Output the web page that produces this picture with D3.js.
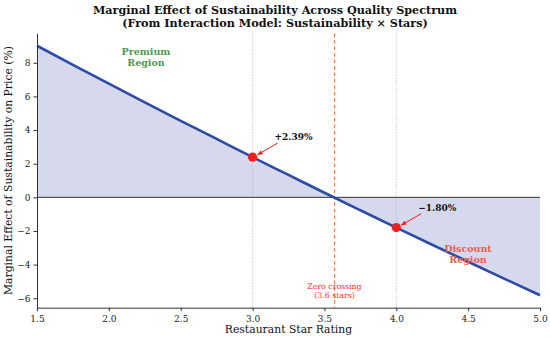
<!DOCTYPE html>
<html>
<head>
<meta charset="utf-8">
<script src="https://cdn.jsdelivr.net/npm/d3@7"></script>
<style>
  body { margin: 0; background: #fff; }
  svg text { font-family: "DejaVu Serif", serif; }
</style>
</head>
<body>
<svg id="chart" width="550" height="339"></svg>
<script>
// star ratings and marginal effect (%)
var stars = [1.5, 1.75, 2.0, 2.25, 2.5, 2.75, 3.0, 3.25, 3.5, 3.75, 4.0, 4.25, 4.5, 4.75, 5.0];
var effect = [9.01, 7.88, 6.76, 5.65, 4.55, 3.47, 2.39, 1.33, 0.27, -0.77, -1.80, -2.82, -3.83, -4.83, -5.82];
var markStars = [3.0, 4.0];
var markEffect = [2.39, -1.80];
var markLabels = ["+2.39%", "\u22121.80%"];
var zeroCross = 3.57;
var xTicks = [1.5, 2.0, 2.5, 3.0, 3.5, 4.0, 4.5, 5.0];
var yTicks = [-6, -4, -2, 0, 2, 4, 6, 8];

var svg = d3.select("#chart");
var mLeft = 37, mRight = 540, mTop = 33.3, mBottom = 307.7;

var x = d3.scaleLinear().domain([1.5, 5.0]).range([mLeft, mRight]);
var yMin = d3.min(effect), yMax = d3.max(effect), pad = (yMax - yMin) * 0.05;
var y = d3.scaleLinear().domain([yMin - pad, yMax + pad]).range([mBottom, mTop]);

var pts = stars.map(function(s, i) { return [s, effect[i]]; });

//shaded area between curve and zero
svg.append("path")
    .datum(pts)
    .attr("d", d3.area().x(function(d) { return x(d[0]); }).y0(y(0)).y1(function(d) { return y(d[1]); }).curve(d3.curveMonotoneX))
    .attr("fill", "#d6d9ed");

//reference verticals
markStars.forEach(function(s) {
    svg.append("line")
        .attr("x1", x(s)).attr("x2", x(s)).attr("y1", mTop).attr("y2", mBottom)
        .attr("stroke", "#b0b0b0").attr("stroke-width", 0.8).attr("stroke-dasharray", "1,1.6");
});
svg.append("line")
    .attr("x1", x(zeroCross)).attr("x2", x(zeroCross)).attr("y1", mTop).attr("y2", mBottom)
    .attr("stroke", "#ff7f50").attr("stroke-width", 1).attr("stroke-dasharray", "4,2.5");

//zero line
svg.append("line")
    .attr("x1", mLeft).attr("x2", mRight).attr("y1", y(0)).attr("y2", y(0))
    .attr("stroke", "#333").attr("stroke-width", 1);

//main curve
svg.append("path")
    .datum(pts)
    .attr("d", d3.line().x(function(d) { return x(d[0]); }).y(function(d) { return y(d[1]); }).curve(d3.curveMonotoneX))
    .attr("fill", "none").attr("stroke", "#2b4ba6").attr("stroke-width", 2.6);

//axes
var xAxis = svg.append("g").attr("transform", "translate(0," + mBottom + ")")
    .call(d3.axisBottom(x).tickValues(xTicks).tickFormat(d3.format(".1f")).tickSize(3.5).tickSizeOuter(0));
var yAxis = svg.append("g").attr("transform", "translate(" + mLeft + ",0)")
    .call(d3.axisLeft(y).tickValues(yTicks).tickSize(3.5).tickSizeOuter(0));
[xAxis, yAxis].forEach(function(a) {
    a.select(".domain").attr("stroke", "#333").attr("stroke-width", 1);
    a.selectAll(".tick line").attr("stroke", "#333");
    a.selectAll(".tick text").attr("fill", "#222").style("font-size", "9px").style("font-family", "DejaVu Serif");
});
xAxis.selectAll(".tick text").attr("dy", "0.85em");

//markers + annotations
var arrowOff = [[25, -14], [25, -14]];
svg.append("defs").append("marker")
    .attr("id", "arr").attr("viewBox", "0 0 10 10").attr("refX", 9).attr("refY", 5)
    .attr("markerWidth", 5).attr("markerHeight", 5).attr("orient", "auto")
    .append("path").attr("d", "M0,1 L10,5 L0,9 z").attr("fill", "#f02020");

markStars.forEach(function(s, i) {
    var cx = x(s), cy = y(markEffect[i]);
    svg.append("line")
        .attr("x1", cx + arrowOff[i][0]).attr("y1", cy + arrowOff[i][1])
        .attr("x2", cx + 5).attr("y2", cy - 2.5)
        .attr("stroke", "#f02020").attr("stroke-width", 1.1).attr("marker-end", "url(#arr)");
    svg.append("circle").attr("cx", cx).attr("cy", cy).attr("r", 4.6).attr("fill", "#f02020");
    svg.append("text").attr("x", cx + 22).attr("y", cy - 17)
        .style("font-size", "9px").style("font-weight", "bold").attr("fill", "#111")
        .text(markLabels[i]);
});

//region labels
function twoLine(txt, cx, cy, col, size) {
    var t = svg.append("text").attr("text-anchor", "middle").attr("fill", col)
        .style("font-size", size + "px");
    txt.forEach(function(line, i) {
        t.append("tspan").attr("x", cx).attr("y", cy + i * size * 1.2).text(line);
    });
    return t;
}
twoLine(["Premium", "Region"], 146, 55, "#4c9a50", 9.5).style("font-weight", "bold");
twoLine(["Discount", "Region"], 468, 252, "#e8604a", 9.5).style("font-weight", "bold");
twoLine(["Zero crossing", "(3.6 stars)"], x(zeroCross), 289, "#ff2a2a", 7.8);

//titles
twoLine(["Marginal Effect of Sustainability Across Quality Spectrum",
         "(From Interaction Model: Sustainability \u00d7 Stars)"], 275, 14, "#111", 11.2)
    .style("font-weight", "bold");
svg.append("text").attr("x", x(3.25)).attr("y", 333).attr("text-anchor", "middle")
    .style("font-size", "10.8px").attr("fill", "#111").text("Restaurant Star Rating");
svg.append("text").attr("transform", "translate(12," + ((mTop + mBottom) / 2) + ") rotate(-90)")
    .attr("text-anchor", "middle").style("font-size", "10.8px").attr("fill", "#111")
    .text("Marginal Effect of Sustainability on Price (%)");
</script>
</body>
</html>
